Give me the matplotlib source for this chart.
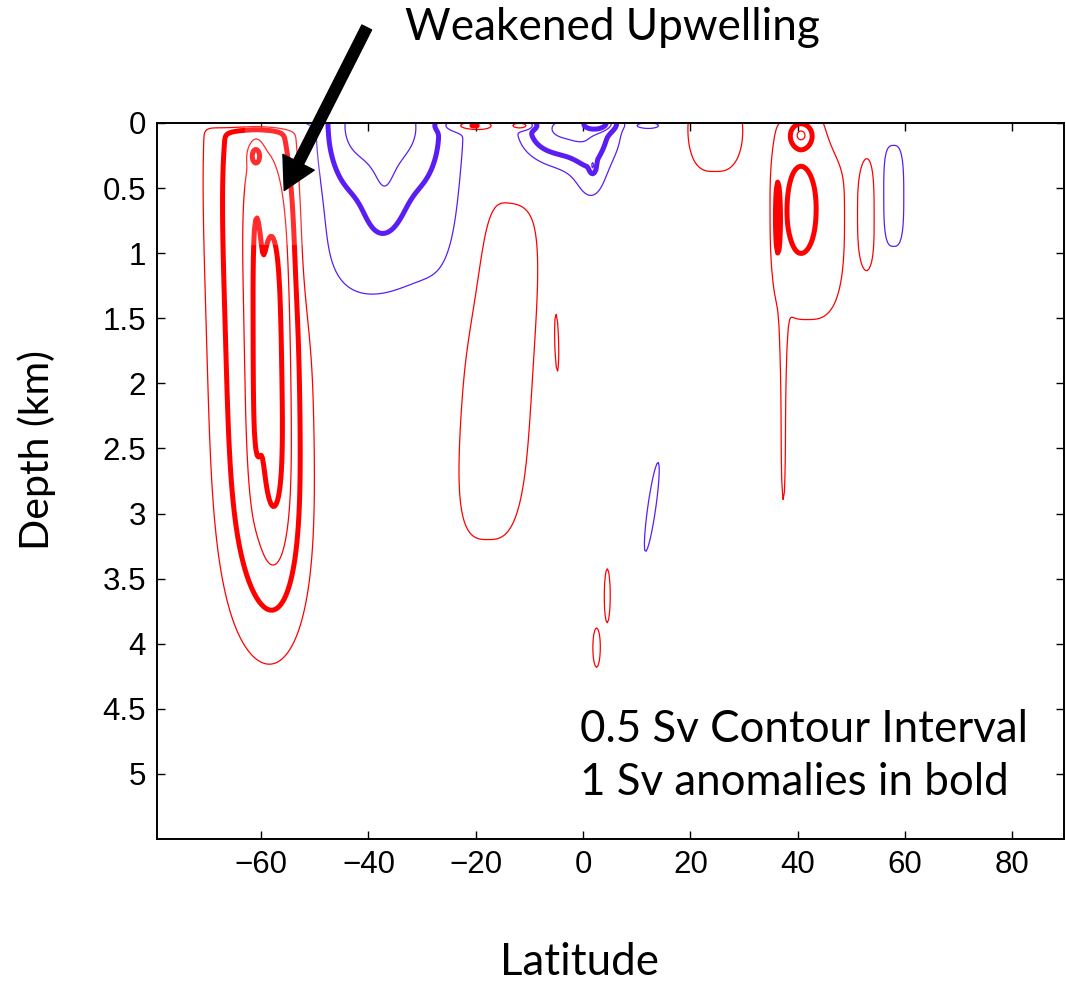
import numpy as np
import matplotlib
matplotlib.use("Agg")
import matplotlib.pyplot as plt
from matplotlib.ticker import FixedLocator, FormatStrFormatter
from matplotlib.patches import FancyArrowPatch, Rectangle

# ---- streamfunction anomaly features (Sv) ----
# each feature: centre latitude, centre depth (km), half-scales, amplitude (Sv),
# shape exponents and tilt (deg latitude per km)
blob_lat   = [-60.5, -57.0, -61.0, -60.0, -61.0,
              -36.3, -38.0, -37.0, -40.0,
              -21.0, -11.5, 12.3,
              -3.0, 1.5, 3.0, 1.8,
              -15.8, -4.8, 12.8, 4.5, 2.5,
              41.8, 37.3, 40.5, 36.2, 40.6, 53.0, 57.8, 24.5, 48.5]
blob_depth = [1.6, 1.9, 1.6, 0.0, 0.25,
              0.35, 0.0, 0.55, 1.1,
              0.02, 0.02, 0.02,
              0.05, 0.45, 0.0, 0.33,
              1.9, 1.75, 2.95, 3.63, 4.03,
              0.7, 2.2, 0.66, 0.73, 0.09, 0.7, 0.56, 0.05, 0.0]
blob_wlat  = [9.0, 3.5, 1.0, 8.5, 1.0,
              16.0, 10.0, 3.5, 8.0,
              4.0, 2.0, 2.6,
              9.5, 3.5, 3.0, 0.5,
              8.3, 1.1, 1.1, 0.8, 1.0,
              8.5, 0.7, 2.6, 0.6, 2.0, 1.8, 2.5, 6.4, 3.0]
blob_wdep  = [2.45, 1.6, 1.2, 0.05, 0.07,
              1.05, 0.45, 0.3, 0.35,
              0.04, 0.03, 0.03,
              0.3, 0.25, 0.06, 0.05,
              1.57, 0.65, 0.5, 0.3, 0.22,
              1.0, 1.0, 0.32, 0.4, 0.09, 0.5, 0.5, 0.47, 0.25]
blob_amp   = [1.6, 0.75, 0.35, -1.2, 0.7,
              -0.8, -1.0, -0.4, -0.2,
              1.3, 1.6, -0.8,
              -1.6, -0.5, -1.2, -0.6,
              0.8, 0.45, -0.8, 0.8, 0.8,
              0.85, 0.7, 0.55, 0.55, 0.92, 0.8, -0.8, 0.8, -0.4]
blob_plat  = [2, 2, 2, 4, 2,
              6, 3, 2, 2,
              2, 2, 2,
              3, 2, 2, 2,
              3, 2, 2, 2, 2,
              3, 2, 2, 2, 2, 2, 3, 3, 2]
blob_pdep  = [4, 4, 4, 2, 2,
              3, 2, 2, 2,
              2, 2, 2,
              2, 2, 2, 2,
              4, 2, 2, 2, 2,
              3, 3, 2, 2, 2, 3, 3, 2, 2]
blob_tilt  = [0.7, 0, 0, 0, 0,
              0, 0, 0, 0,
              0, 0, 0,
              0, 0, 0, 0,
              -1.5, 0.5, -3.4, 0, 0,
              0, 0, 0, 0, 0, 0, 0, 0, 0]

thin_pos = [0.5, 1.5, 2.5]
bold_pos = [1.0, 2.0]
thin_neg = [-2.5, -1.5, -0.5]
bold_neg = [-2.0, -1.0]

xticks = [-60, -40, -20, 0, 20, 40, 60, 80]
yticks = [0, 0.5, 1, 1.5, 2, 2.5, 3, 3.5, 4, 4.5, 5]

# highlighted "weakened upwelling" box (lat range, depth range)
box_lat = [-63.0, -49.0]
box_depth = [0.0, 0.94]

RED = "#ff0000"
BLUE = "#5a1ef5"

lat = np.linspace(-80, 90, 681)
dep = np.linspace(0, 5.5, 551)
LAT, DEP = np.meshgrid(lat, dep)
F = np.zeros_like(LAT)
for la, z0, wl, wz, a, p, q, t in zip(blob_lat, blob_depth, blob_wlat, blob_wdep,
                                      blob_amp, blob_plat, blob_pdep, blob_tilt):
    dl = LAT - (la + t * (DEP - z0))
    F += a * np.exp(-np.abs(dl / wl) ** p - np.abs((DEP - z0) / wz) ** q)

W, H = 1066, 983
fig = plt.figure(figsize=(W / 100, H / 100), dpi=100)
ax = fig.add_axes([157 / W, 1 - 839 / H, (1064 - 157) / W, (839 - 123) / H])

ax.contour(LAT, DEP, F, levels=thin_pos, colors=RED, linewidths=0.9, linestyles='solid')
ax.contour(LAT, DEP, F, levels=bold_pos, colors=RED, linewidths=3.6, linestyles='solid')
ax.contour(LAT, DEP, F, levels=thin_neg, colors=BLUE, linewidths=0.9, linestyles='solid')
ax.contour(LAT, DEP, F, levels=bold_neg, colors=BLUE, linewidths=3.6, linestyles='solid')

ax.add_patch(Rectangle((box_lat[0], box_depth[0]), box_lat[1] - box_lat[0],
                       box_depth[1] - box_depth[0], facecolor='white',
                       edgecolor='none', alpha=0.18, zorder=5))

ax.set_xlim(-79.4, 89.6)
ax.set_ylim(5.5, 0)
ax.xaxis.set_major_locator(FixedLocator(xticks))
ax.yaxis.set_major_locator(FixedLocator(yticks))
ax.yaxis.set_major_formatter(FormatStrFormatter('%g'))
ax.set_xticklabels(["\u221260", "\u221240", "\u221220", "0", "20", "40", "60", "80"])
ax.tick_params(direction='in', length=6, width=1, top=True, right=True,
               labelsize=22.5, pad=8)
for lab in ax.get_xticklabels() + ax.get_yticklabels():
    lab.set_fontfamily('Liberation Sans')
for s in ax.spines.values():
    s.set_linewidth(1.4)
    s.set_zorder(6)

calib = 'Lato'
fig.text(579 / W, 1 - 975 / H, "Latitude", ha='center', va='baseline',
         fontsize=31.6, family=calib)
fig.text(37 / W, 1 - 450 / H, "Depth (km)", ha='center', va='center',
         rotation=90, fontsize=29.5, family=calib)
fig.text(405 / W, 1 - 40 / H, "Weakened Upwelling", ha='left', va='baseline',
         fontsize=31.8, family=calib)
fig.text(580 / W, 1 - 742 / H, "0.5 Sv Contour Interval", ha='left', va='baseline',
         fontsize=31.6, family=calib)
fig.text(580 / W, 1 - 795 / H, "1 Sv anomalies in bold", ha='left', va='baseline',
         fontsize=31.6, family=calib)

arrow = FancyArrowPatch((368, H - 25), (283, H - 193), transform=None,
                        arrowstyle="simple,head_width=2.1,head_length=1.9,tail_width=0.65",
                        mutation_scale=12, color='black', zorder=10)
fig.add_artist(arrow)

fig.savefig("out.png", dpi=100)
